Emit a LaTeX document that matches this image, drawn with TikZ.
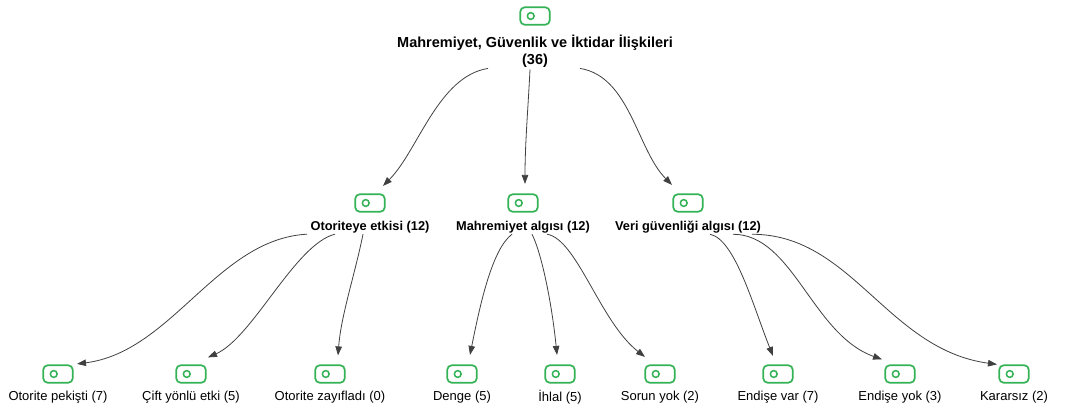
\documentclass[tikz,border=0pt]{standalone}
\usepackage{fontspec}
\setmainfont{Liberation Sans}
\usetikzlibrary{arrows.meta}
\definecolor{yesil}{RGB}{52,178,86}
\definecolor{okrengi}{RGB}{64,64,64}
\tikzset{
  simge/.style={draw=yesil, line width=1.7pt, rounded corners=4.5pt, minimum width=29.5pt, minimum height=17.5pt, inner sep=0pt,
    path picture={\draw[yesil, line width=1.5pt] ([xshift=10.5pt]path picture bounding box.west) circle (3.4pt);}},
  kokyazi/.style={font=\bfseries\fontsize{14.5}{17}\selectfont, align=center, inner sep=1pt},
  baslik/.style={font=\bfseries\fontsize{12.8}{15}\selectfont, inner sep=1pt},
  yaprak/.style={font=\fontsize{13}{15}\selectfont, inner sep=1pt},
  ok/.style={draw=okrengi, line width=0.8pt, -{Triangle[length=9pt,width=6.5pt]}},
}
\begin{document}
\begin{tikzpicture}[x=1pt,y=1pt]
\useasboundingbox (0,0) rectangle (1070,-410);
% kök
\node[simge] (kok) at (535,-16) {};
\node[kokyazi] (kok-e) at (535,-51) {Mahremiyet, Güvenlik ve İktidar İlişkileri\\(36)};
% ikinci düzey
\node[simge] (otorite) at (370,-203) {};
\node[baslik] (otorite-e) at (370,-227) {Otoriteye etkisi (12)};
\node[simge] (mahremiyet) at (523,-203) {};
\node[baslik] (mahremiyet-e) at (523,-227) {Mahremiyet algısı (12)};
\node[simge] (veri) at (688,-203) {};
\node[baslik] (veri-e) at (688,-227) {Veri güvenliği algısı (12)};
% yapraklar
\node[simge] (pekisti) at (58,-374) {};
\node[yaprak] (pekisti-e) at (58,-397) {Otorite pekişti (7)};
\node[simge] (cift) at (191,-374) {};
\node[yaprak] (cift-e) at (191,-397) {Çift yönlü etki (5)};
\node[simge] (zayif) at (330,-374) {};
\node[yaprak] (zayif-e) at (330,-397) {Otorite zayıfladı (0)};
\node[simge] (denge) at (462,-374) {};
\node[yaprak] (denge-e) at (462,-397) {Denge (5)};
\node[simge] (ihlal) at (560,-374) {};
\node[yaprak] (ihlal-e) at (560,-397) {İhlal (5)};
\node[simge] (sorun) at (660,-374) {};
\node[yaprak] (sorun-e) at (660,-397) {Sorun yok (2)};
\node[simge] (endvar) at (778,-374) {};
\node[yaprak] (endvar-e) at (778,-397) {Endişe var (7)};
\node[simge] (endyok) at (900,-374) {};
\node[yaprak] (endyok-e) at (900,-397) {Endişe yok (3)};
\node[simge] (kararsiz) at (1014,-374) {};
\node[yaprak] (kararsiz-e) at (1014,-397) {Kararsız (2)};
% kökten ikinci düzeye
\draw[ok] ([xshift=-47pt]kok-e.south) .. controls +(-50,-8) and +(35,35) .. ([shift={(13,7.5)}]otorite.north);
\draw[ok] ([xshift=-5pt,yshift=-1pt]kok-e.south) .. controls +(-2,-40) and +(0,40) .. ([shift={(2,9.5)}]mahremiyet.north);
\draw[ok] ([xshift=45pt]kok-e.south) .. controls +(50,-8) and +(-35,35) .. ([shift={(-16,8.5)}]veri.north);
% otoriteye etkisi
\draw[ok] ([xshift=-63pt]otorite-e.south) .. controls +(-90,-5) and +(95,12) .. ([shift={(19,0.5)}]pekisti.north);
\draw[ok] ([xshift=-35pt]otorite-e.south) .. controls +(-40,-10) and +(45,20) .. ([shift={(17,7)}]cift.north);
\draw[ok] ([xshift=-7pt]otorite-e.south) .. controls +(-8,-40) and +(3,40) .. ([shift={(8,9)}]zayif.north);
% mahremiyet algısı
\draw[ok] ([xshift=-11pt]mahremiyet-e.south) .. controls +(-20,-15) and +(10,50) .. ([shift={(8,9.5)}]denge.north);
\draw[ok] ([xshift=9pt]mahremiyet-e.south) .. controls +(10,-20) and +(-5,50) .. ([shift={(-3,9.5)}]ihlal.north);
\draw[ok] ([xshift=24pt]mahremiyet-e.south) .. controls +(30,-5) and +(-45,35) .. ([shift={(-15,7.5)}]sorun.north);
% veri güvenliği algısı
\draw[ok] ([xshift=22pt]veri-e.south) .. controls +(25,-5) and +(-20,50) .. ([shift={(-5,8.5)}]endvar.north);
\draw[ok] ([xshift=45pt]veri-e.south) .. controls +(60,0) and +(-70,25) .. ([shift={(-18,5)}]endyok.north);
\draw[ok] ([xshift=64pt]veri-e.south) .. controls +(100,0) and +(-110,15) .. ([shift={(-17,0)}]kararsiz.north);
\end{tikzpicture}
\end{document}
